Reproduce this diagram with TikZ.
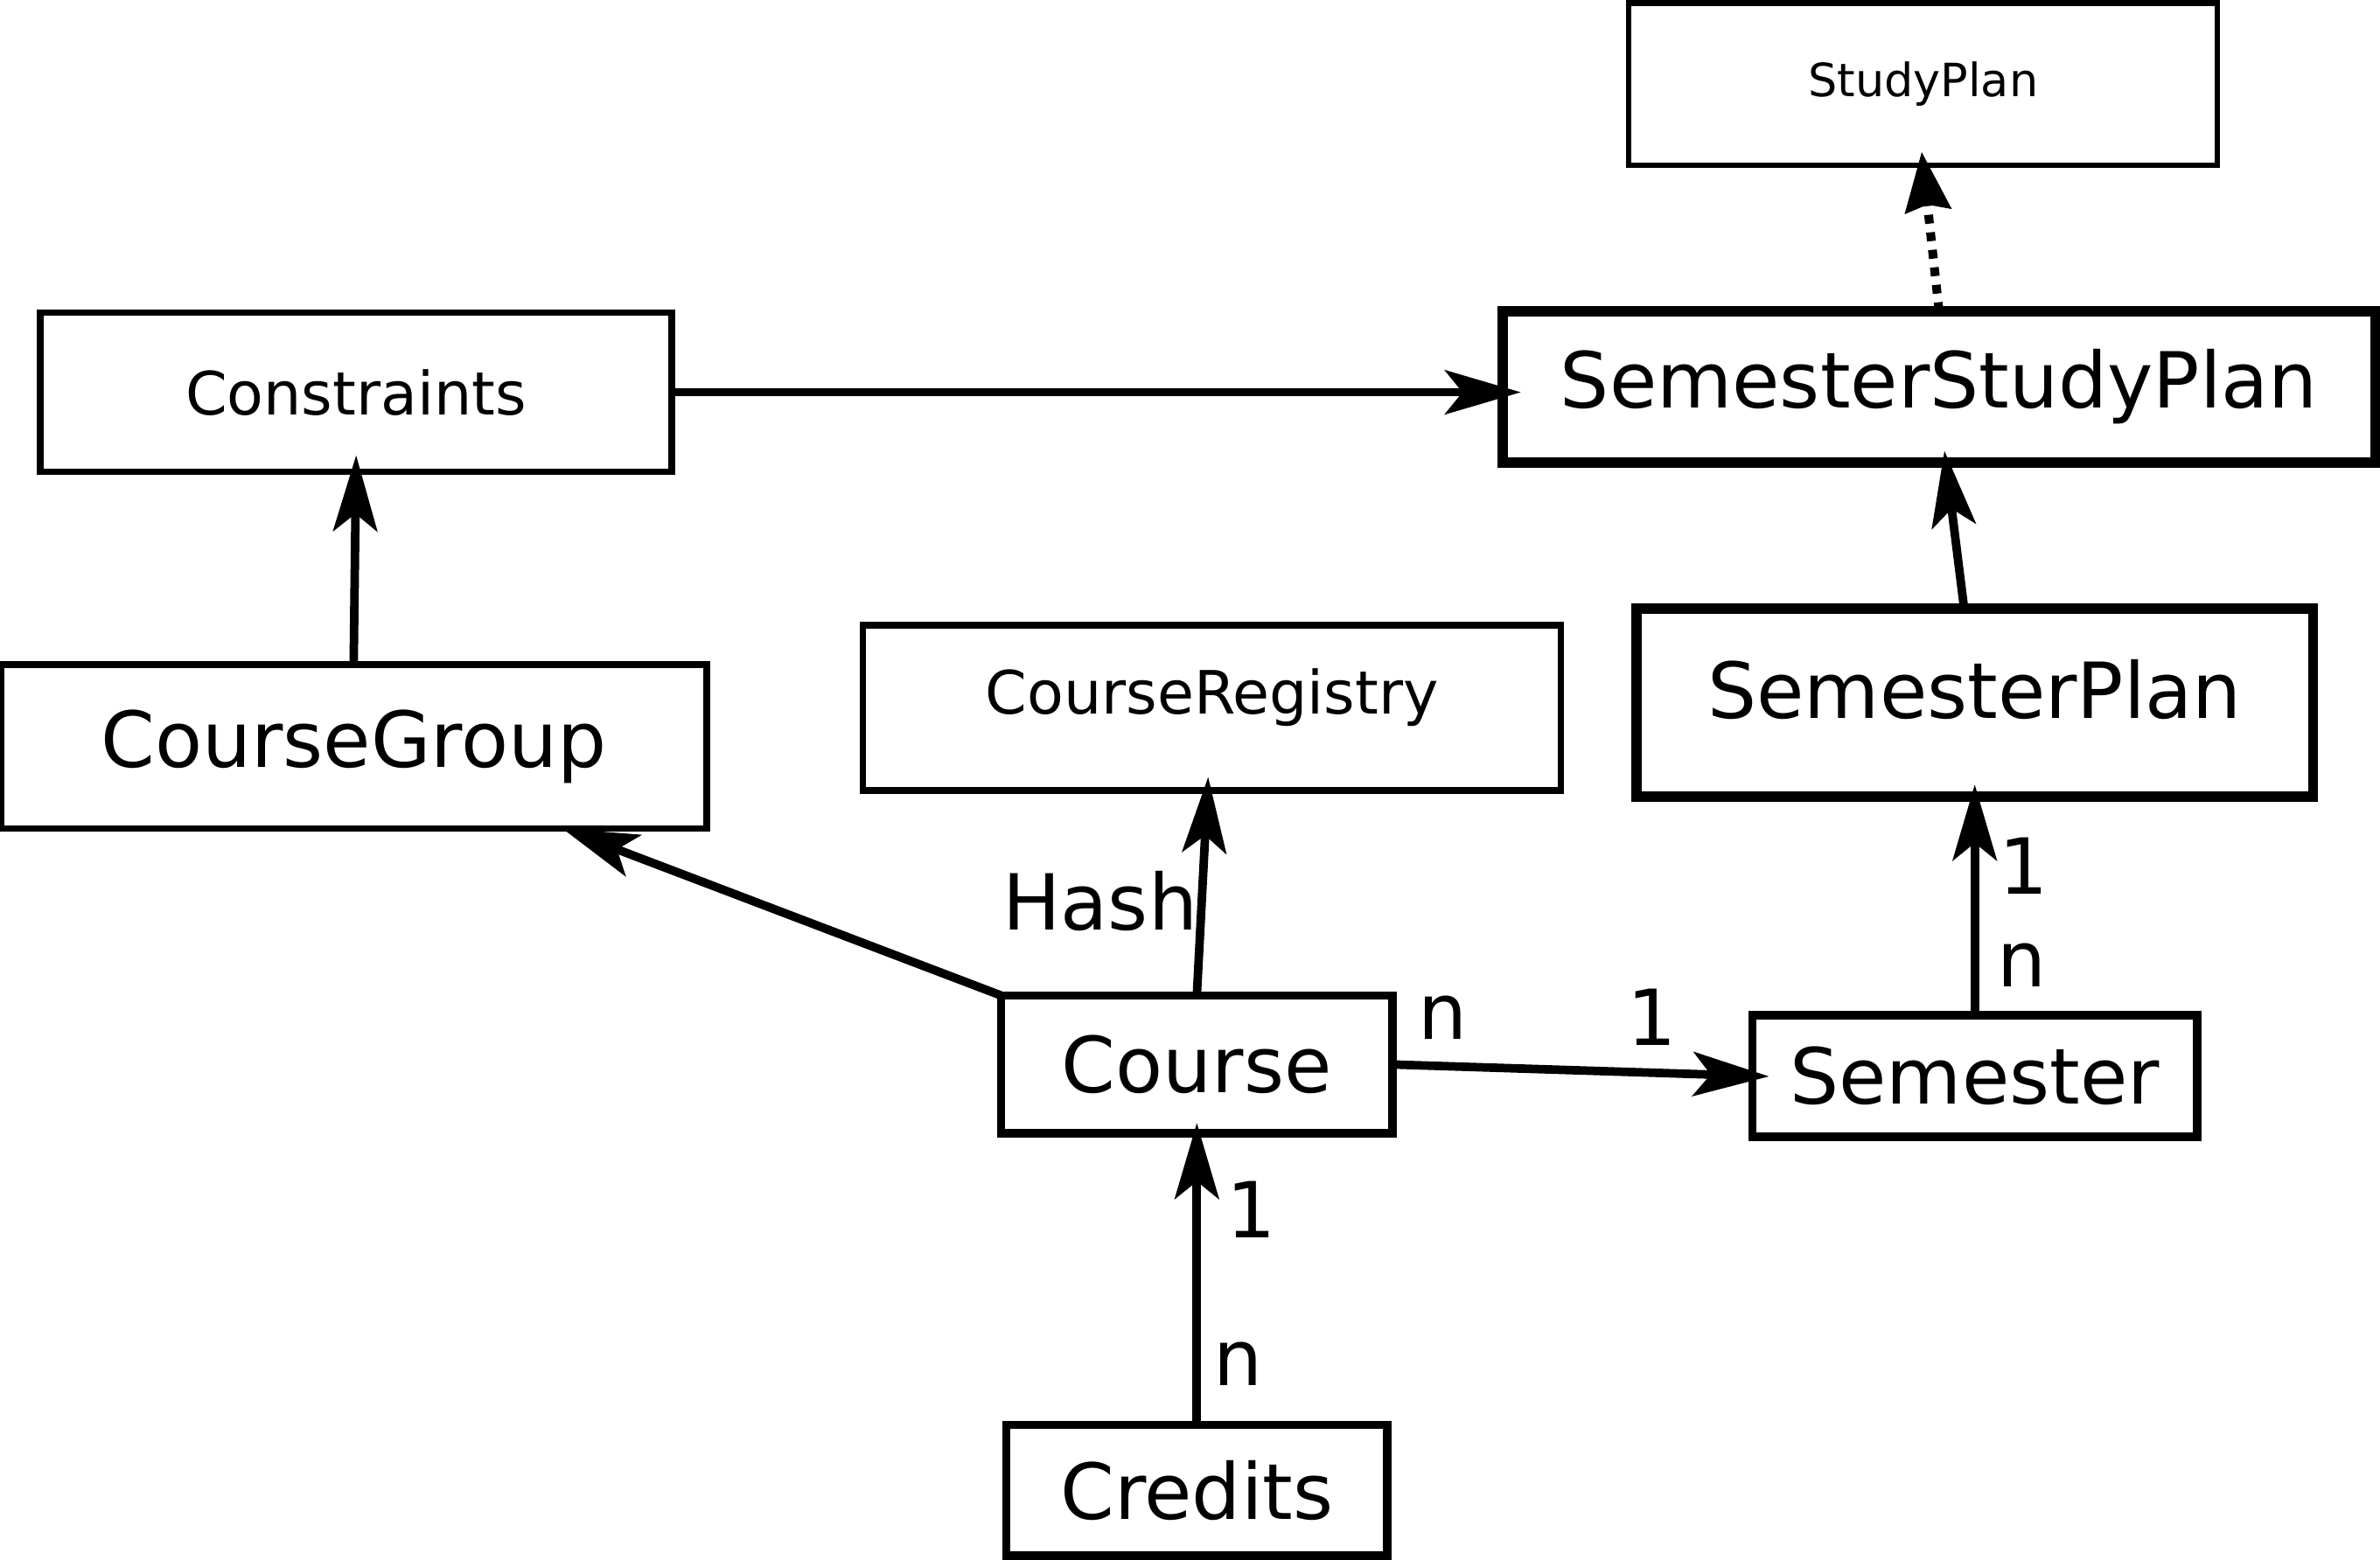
\documentclass[tikz,border=0pt]{standalone}
\usepackage{fontspec}
\setmainfont{DejaVu Sans}
\usetikzlibrary{arrows.meta,positioning}
\tikzset{
  umlclass/.style={
    draw=black,
    inner sep=0pt,
    outer sep=0pt,
    line width=1.6pt,
    font=\fontsize{14.5}{17}\selectfont,
  },
  heavy class/.style={
    umlclass,
    line width=1.9pt,
  },
  light class/.style={
    umlclass,
    line width=1.2pt,
    font=\fontsize{11.2}{13}\selectfont,
  },
  abstract class/.style={
    umlclass,
    line width=1pt,
    font=\fontsize{8.6}{10}\selectfont,
  },
  assoc/.style={
    -{Stealth[length=5mm,width=2.9mm,inset=1.15mm]},
    line width=1.6pt,
  },
  realizes/.style={
    -{Stealth[length=3.9mm,width=3mm,inset=0.4mm]},
    line width=1.65pt,
    dash pattern=on 1.65pt off 1.65pt,
  },
  mult/.style={
    inner sep=0pt,
    font=\fontsize{14.5}{17}\selectfont,
  },
}
\begin{document}
\begin{tikzpicture}[node distance=1cm]
  \useasboundingbox (0,0) rectangle (15.68,-10.28);

  \node[heavy class, minimum width=5.75cm, minimum height=1.0cm] (ssp) at (12.775,-2.55) {SemesterStudyPlan};
  \node[abstract class, minimum width=3.88cm, minimum height=1.07cm, above=0.96cm of ssp, xshift=-0.105cm] (sp) {StudyPlan};
  \node[heavy class, minimum width=4.46cm, minimum height=1.24cm, text depth=0.18cm, below=0.96cm of ssp, xshift=0.235cm] (splan) {SemesterPlan};
  \node[umlclass, minimum width=2.93cm, minimum height=0.80cm, below=1.44cm of splan] (sem) {Semester};
  \node[umlclass, minimum width=2.58cm, minimum height=0.91cm, left=2.37cm of sem, yshift=0.075cm] (course) {Course};
  \node[umlclass, minimum width=2.51cm, minimum height=0.86cm, below=1.92cm of course] (credits) {Credits};
  \node[light class, minimum width=4.60cm, minimum height=1.09cm, text depth=0.22cm, above=1.35cm of course, xshift=0.10cm] (creg) {CourseRegistry};
  \node[umlclass, line width=1.3pt, minimum width=4.65cm, minimum height=1.08cm, left=1.03cm of creg, yshift=-0.255cm] (cgroup) {CourseGroup};
  \node[light class, minimum width=4.16cm, minimum height=1.05cm, above=1.27cm of cgroup, xshift=0.015cm] (cons) {Constraints};

  \draw[assoc, shorten >=-1.2mm] (cons.east) -- (cons.east -| ssp.west);
  \draw[assoc, shorten >=-1.1mm] (cgroup.north) -- (cons.south);
  \draw[assoc] (course.north west) -- ([xshift=-0.95cm]cgroup.south east);
  \draw[assoc, shorten >=-0.9mm] (course.north) --
    node[mult, pos=0.46, left=0pt] {Hash} ([xshift=-0.03cm]creg.south);
  \draw[assoc, shorten >=-1.1mm] (course.east) --
    node[mult, pos=0.14, above=0.15cm] {n}
    node[mult, pos=0.72, above=0.15cm] {1} (sem.west);
  \draw[assoc, shorten >=-0.7mm] (credits.north) --
    node[mult, pos=0.21, right=0.08cm] {n}
    node[mult, pos=0.74, right=0.17cm] {1} (course.south);
  \draw[assoc, shorten >=-0.8mm] (sem.north) --
    node[mult, pos=0.23, right=0.12cm] {n}
    node[mult, pos=0.685, right=0.13cm] {1} (splan.south);
  \draw[assoc, shorten >=-0.8mm] ([xshift=-0.07cm]splan.north) -- ([xshift=0.045cm]ssp.south);
  \draw[realizes, shorten >=-0.9mm] (ssp.north) -- (sp.south);
\end{tikzpicture}
\end{document}
